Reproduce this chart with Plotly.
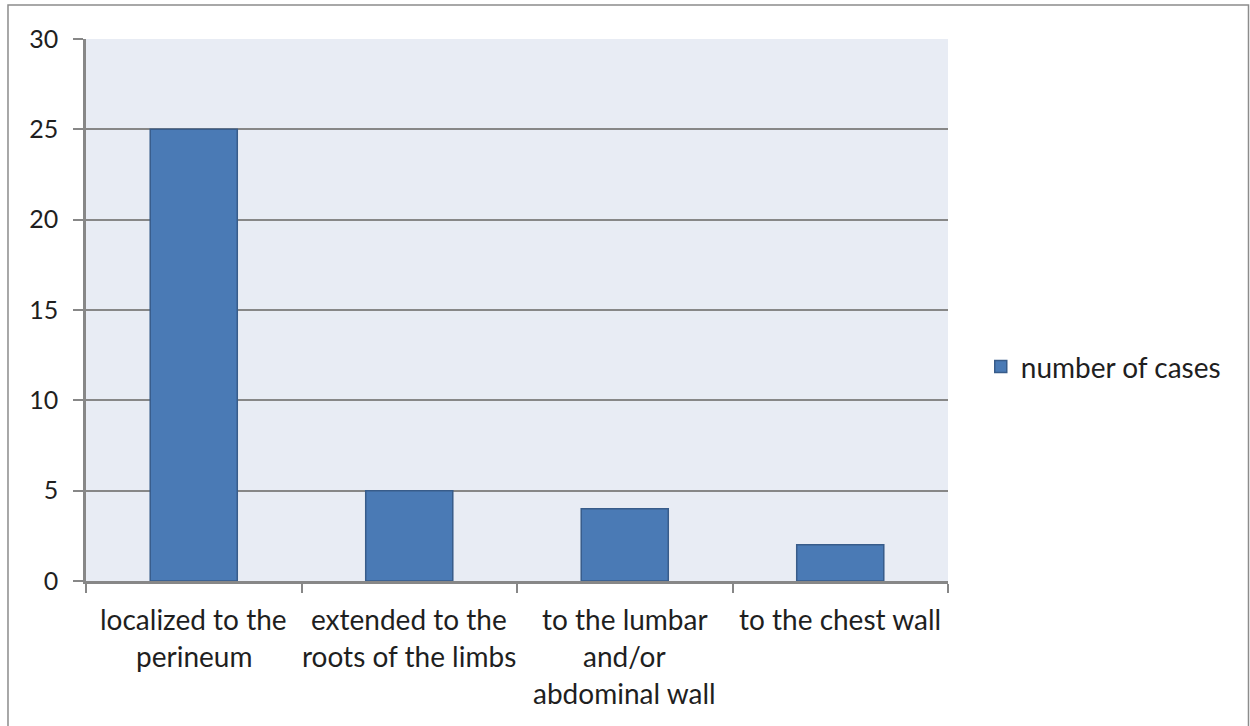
import plotly.graph_objects as go

categories = ["localized to the<br>perineum",
              "extended to the<br>roots of the limbs",
              "to the lumbar<br>and/or<br>abdominal wall",
              "to the chest wall"]
cat_keys = ["c1", "c2", "c3", "c4"]
values = [25, 5, 4, 2]
series_name = "number of cases"
y_ticks = [0, 5, 10, 15, 20, 25, 30]

FONT = "Lato"
TEXT = "#1f1f1f"
GRID = "#878787"

fig = go.Figure()
fig.add_trace(go.Bar(
    x=cat_keys, y=values, name=series_name,
    marker=dict(color="#4a7ab5", line=dict(color="#385c8a", width=1.5)),
    showlegend=True,
))

annotations = []
for key, label in zip(cat_keys, categories):
    for j, line in enumerate(label.split("<br>")):
        annotations.append(dict(
            x=key, xref="x", y=0, yref="paper", text=line, showarrow=False,
            xanchor="center", yanchor="middle", yshift=-(38 + 37 * j),
            font=dict(family=FONT, size=28, color=TEXT),
        ))

fig.update_layout(
    width=1250, height=726,
    margin=dict(l=86, r=302, t=39, b=145),
    paper_bgcolor="white",
    plot_bgcolor="#e8ecf4",
    bargap=0.596,
    font=dict(family=FONT, size=24, color=TEXT),
    annotations=annotations,
    legend=dict(
        x=1.038, xanchor="left", y=0.395, yanchor="middle",
        font=dict(family=FONT, size=28, color=TEXT),
        bgcolor="rgba(0,0,0,0)",
    ),
    shapes=[dict(
        type="rect", xref="paper", yref="paper",
        x0=-0.0905, x1=1.3486, y0=-0.30, y1=1.0627,
        line=dict(color="#8c8c8c", width=1.5), fillcolor="rgba(0,0,0,0)",
        layer="below",
    )],
)
fig.update_xaxes(
    type="category", range=[-0.5, 3.5],
    showticklabels=False,
    tickson="boundaries", ticks="outside", ticklen=9, tickwidth=2, tickcolor=GRID,
    showline=True, linecolor=GRID, linewidth=2.5,
    showgrid=False, zeroline=False,
)
fig.update_yaxes(
    range=[0, 30], tickvals=y_ticks,
    ticks="outside", ticklen=10, tickwidth=2, tickcolor=GRID,
    ticklabelstandoff=10,
    showline=True, linecolor=GRID, linewidth=2.5,
    showgrid=True, gridcolor=GRID, gridwidth=2,
    zeroline=False,
    tickfont=dict(family=FONT, size=25, color=TEXT),
)

fig.write_html("out.html", config={"displayModeBar": False},
               post_script="document.body.style.margin='0';")
